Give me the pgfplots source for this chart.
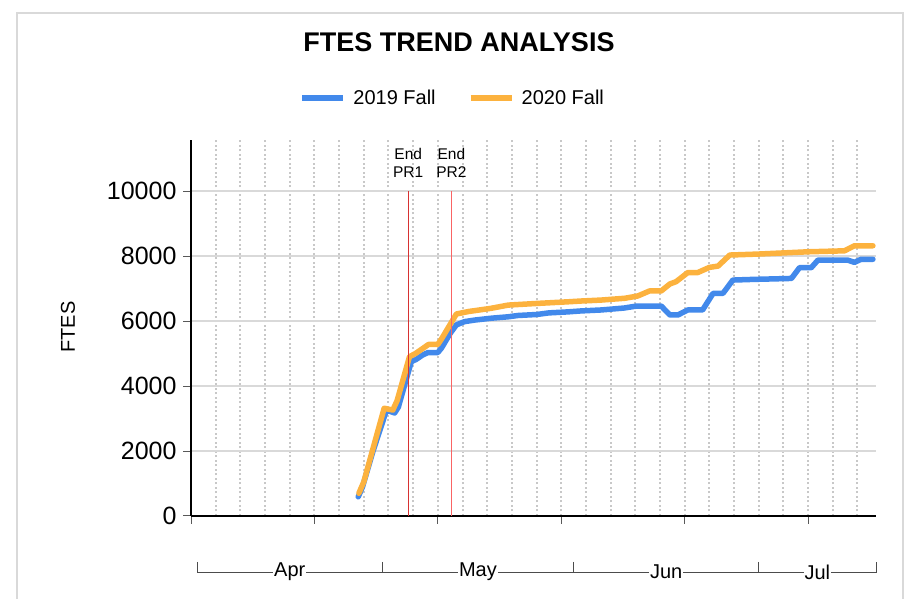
\documentclass[border=0pt]{standalone}
\usepackage{fontspec}
\setmainfont{Liberation Sans}
\usepackage{pgfplots}
\pgfplotsset{compat=1.18}
\usetikzlibrary{calc}
\definecolor{blueL}{RGB}{66,137,235}
\definecolor{orangeL}{RGB}{252,178,62}
\definecolor{gridc}{RGB}{217,217,217}
\definecolor{dotc}{RGB}{200,200,200}
\definecolor{prone}{RGB}{215,50,50}
\definecolor{prtwo}{RGB}{250,100,100}
\begin{document}
\begin{tikzpicture}[x=1pt,y=1pt]
\path[use as bounding box] (0,0) rectangle (905,599);
\draw[gridc, line width=1.5pt] (17,0) -- (17,586) -- (903,586) -- (903,0);
\begin{axis}[
  at={(191pt,83pt)}, anchor=south west,
  scale only axis, width=685pt, height=376pt,
  xmin=-1, xmax=110, ymin=0, ymax=11570,
  axis x line*=bottom, axis y line*=left,
  axis line style={black, line width=2.5pt},
  ytick={0,2000,4000,6000,8000,10000},
  scaled y ticks=false,
  xtick={-1,19,39,59,79,99}, xticklabels={},
  minor xtick={3,7,...,107},
  ymajorgrids, xminorgrids,
  major grid style={gridc, line width=1.5pt},
  minor grid style={dotc, line width=2pt, dash pattern=on 2pt off 2.5pt},
  tick align=outside, major tick length=8pt, minor tick length=0pt,
  tick style={black!65, line width=1pt},
  /pgf/number format/assume math mode=true,
  /pgf/number format/1000 sep={},
  yticklabel style={font=\fontsize{25}{25}\selectfont, xshift=-3pt},
  clip=false,
  legend style={at={(axis description cs:0.382,1.112)}, anchor=center, draw=none, fill=none,
    font=\fontsize{20}{24}\selectfont, legend columns=2,
    /tikz/every odd column/.append style={column sep=5pt},
    /tikz/every even column/.append style={column sep=30pt}},
  legend image code/.code={\draw[#1, line width=6pt, line cap=butt] (0pt,0pt) -- (41pt,0pt);},
]
\addplot[blueL, line width=5.5pt, line join=round, line cap=round] coordinates {
(26.1,590) (26.8,900) (28.5,2000) (30.6,3210) (31.1,3230) (32.0,3170) (32.6,3350)
(34.7,4750) (35.5,4820) (36.5,4950) (37.4,5030) (39.0,5030) (39.6,5170) (41.0,5620)
(42.0,5880) (43.3,5980) (45.0,6030) (47.6,6085) (50.4,6130) (52,6170) (55,6200)
(57,6250) (60,6280) (62.2,6310) (65.5,6340) (69.2,6400) (71.2,6460) (75.2,6460)
(76.6,6185) (77.9,6185) (79.5,6340) (81.9,6340) (83.6,6850) (85.2,6850) (86.8,7260)
(90,7280) (96.3,7310) (97.6,7640) (99.5,7640) (100.6,7875) (105.4,7875) (106.5,7805)
(107.6,7900) (109.5,7900)
};
\addlegendentry{2019 Fall}
\addplot[orangeL, line width=5.5pt, line join=round, line cap=round] coordinates {
(26.2,700) (27.0,1050) (28.6,2150) (30.3,3315) (31.7,3260) (32.4,3550) (34.4,4900)
(35.5,5015) (37.5,5280) (39.0,5280) (39.6,5450) (42.0,6215) (43.9,6290) (47.6,6390)
(50.4,6490) (55,6540) (60,6590) (62.2,6615) (65.5,6645) (69.3,6700) (71.4,6770)
(73.3,6925) (75.2,6925) (76.6,7140) (77.6,7210) (79.5,7490) (81.1,7490) (83.0,7650)
(84.4,7690) (86.3,8030) (90.9,8060) (99.0,8130) (104.9,8160) (106.5,8315) (109.5,8315)
};
\addlegendentry{2020 Fall}
\draw[prone, line width=1pt] (axis cs:34.2,0) -- (axis cs:34.2,10000);
\draw[prtwo, line width=1pt] (axis cs:41.2,0) -- (axis cs:41.2,10000);
\node[align=center, font=\fontsize{15.5}{18}\selectfont] at (axis cs:34.2,10862) {End\\PR1};
\node[align=center, font=\fontsize{15.5}{18}\selectfont] at (axis cs:41.2,10862) {End\\PR2};
% month brackets
\draw[black!70, line width=0.8pt] ($(axis cs:0,0)+(0pt,-46pt)$) -- ($(axis cs:0,0)+(0pt,-56pt)$) -- ($(axis cs:110,0)+(0pt,-56pt)$) -- ($(axis cs:110,0)+(0pt,-46pt)$);
\draw[black!70, line width=0.8pt] ($(axis cs:30,0)+(0pt,-46pt)$) -- ($(axis cs:30,0)+(0pt,-56pt)$);
\draw[black!70, line width=0.8pt] ($(axis cs:61,0)+(0pt,-46pt)$) -- ($(axis cs:61,0)+(0pt,-56pt)$);
\draw[black!70, line width=0.8pt] ($(axis cs:91,0)+(0pt,-46pt)$) -- ($(axis cs:91,0)+(0pt,-56pt)$);
\node[fill=white, inner xsep=1pt, font=\fontsize{20}{24}\selectfont] at ($(axis cs:15,0)+(0pt,-56pt)$) {Apr};
\node[fill=white, inner xsep=1pt, font=\fontsize{20}{24}\selectfont] at ($(axis cs:45.5,0)+(0pt,-56pt)$) {May};
\node[fill=white, inner xsep=1pt, font=\fontsize{20}{24}\selectfont] at ($(axis cs:76,0)+(0pt,-56pt)$) {Jun};
\node[fill=white, inner xsep=1pt, font=\fontsize{20}{24}\selectfont] at ($(axis cs:100.5,0)+(0pt,-56pt)$) {Jul};
\end{axis}
\node[font=\bfseries\fontsize{27}{31}\selectfont] at (459,557) {FTES TREND ANALYSIS};
\node[rotate=90, font=\fontsize{20}{24}\selectfont] at (68,272) {FTES};
\end{tikzpicture}
\end{document}
